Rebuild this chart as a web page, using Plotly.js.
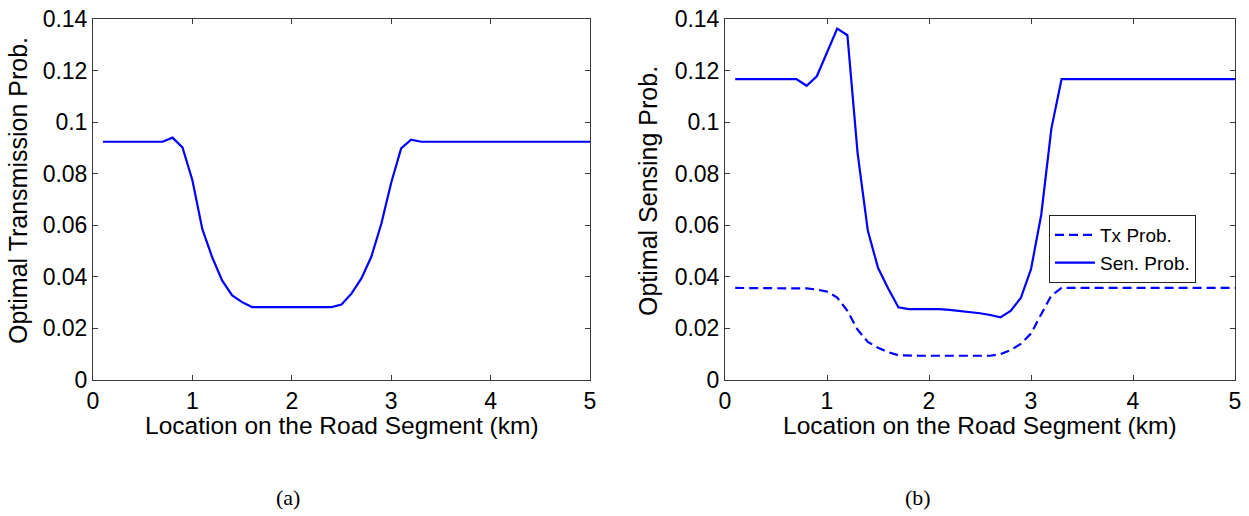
<!DOCTYPE html>
<html>
<head>
<meta charset="utf-8">
<script src="https://cdn.plot.ly/plotly-3.0.1.min.js"></script>
<style>html,body{margin:0;padding:0;background:#fff;}#chart{width:1249px;height:516px;}</style>
</head>
<body>
<div id="chart"></div>
<script>
// Location on road segment (km)
const locKm = [0.1,0.2,0.3,0.4,0.5,0.6,0.7,0.8,0.9,1.0,
  1.1,1.2,1.3,1.4,1.5,1.6,1.7,1.8,1.9,2.0,
  2.1,2.2,2.3,2.4,2.5,2.6,2.7,2.8,2.9,3.0,
  3.1,3.2,3.3,3.4,3.5,3.6,3.7,3.8,3.9,4.0,
  4.1,4.2,4.3,4.4,4.5,4.6,4.7,4.8,4.9,5.0];

// (a) Optimal transmission probability
const transProb = [0.0924,0.0924,0.0924,0.0924,0.0924,0.0924,0.0924,0.0940,0.0902,0.0775,
  0.0585,0.0475,0.0385,0.0328,0.0302,0.0283,0.0283,0.0283,0.0283,0.0283,
  0.0283,0.0283,0.0283,0.0283,0.0293,0.0335,0.0394,0.0478,0.0605,0.0765,
  0.0898,0.0932,0.0924,0.0924,0.0924,0.0924,0.0924,0.0924,0.0924,0.0924,
  0.0924,0.0924,0.0924,0.0924,0.0924,0.0924,0.0924,0.0924,0.0924,0.0924];

// (b) Tx probability
const txProb = [0.0357,0.0357,0.0357,0.0357,0.0357,0.0357,0.0357,0.0355,0.0351,0.0343,
  0.0320,0.0268,0.0195,0.0148,0.0125,0.0108,0.0096,0.0094,0.0094,0.0094,
  0.0094,0.0094,0.0094,0.0094,0.0094,0.0094,0.0100,0.0116,0.0140,0.0180,
  0.0255,0.0328,0.0357,0.0357,0.0357,0.0357,0.0357,0.0357,0.0357,0.0357,
  0.0357,0.0357,0.0357,0.0357,0.0357,0.0357,0.0357,0.0357,0.0357,0.0357];

// (b) Sensing probability
const senProb = [0.1167,0.1167,0.1167,0.1167,0.1167,0.1167,0.1167,0.1141,0.1178,0.1270,
  0.1363,0.1337,0.0880,0.0580,0.0435,0.0355,0.0282,0.0275,0.0275,0.0275,
  0.0275,0.0272,0.0268,0.0264,0.0259,0.0252,0.0243,0.0268,0.0318,0.0430,
  0.0640,0.0976,0.1167,0.1167,0.1167,0.1167,0.1167,0.1167,0.1167,0.1167,
  0.1167,0.1167,0.1167,0.1167,0.1167,0.1167,0.1167,0.1167,0.1167,0.1167];

const xTitle = 'Location on the Road Segment (km)';
const yTitleA = 'Optimal Transmission Prob.';
const yTitleB = 'Optimal Sensing Prob.';
const legendNames = ['Tx Prob.', 'Sen. Prob.'];
const captions = ['(a)', '(b)'];

const W = 1249, H = 516;
const blue = '#0000ff';
const axisColor = '#3a3a3a';
const sans = 'Liberation Sans, Arial, sans-serif';

const traces = [
  {x: locKm, y: transProb, xaxis: 'x', yaxis: 'y', mode: 'lines', showlegend: false,
   line: {color: blue, width: 2.2}},
  {x: locKm, y: txProb, xaxis: 'x2', yaxis: 'y2', mode: 'lines', name: legendNames[0],
   line: {color: blue, width: 2.2, dash: '9px,5px'}},
  {x: locKm, y: senProb, xaxis: 'x2', yaxis: 'y2', mode: 'lines', name: legendNames[1],
   line: {color: blue, width: 2.2}}
];

function xa(domain, anchor) {
  return {domain: domain, anchor: anchor, range: [0, 5], dtick: 1, tick0: 0,
    ticks: 'inside', ticklen: 5, tickcolor: axisColor, showline: true, linecolor: axisColor,
    linewidth: 1, mirror: 'ticks', showgrid: false, zeroline: false, automargin: false,
    tickfont: {family: sans, size: 23, color: '#000'}};
}
function ya(domain, anchor) {
  return {domain: domain, anchor: anchor, range: [0, 0.14], dtick: 0.02, tick0: 0,
    ticks: 'inside', ticklen: 5, tickcolor: axisColor, showline: true, linecolor: axisColor,
    linewidth: 1, mirror: 'ticks', showgrid: false, zeroline: false, automargin: false,
    tickfont: {family: sans, size: 23, color: '#000'}};
}

const yDom = [1 - 380 / H, 1 - 19 / H];
const xDomA = [93 / W, 590 / W];
const xDomB = [725 / W, 1235 / W];

const layout = {
  width: W, height: H,
  margin: {l: 0, r: 0, t: 0, b: 0},
  paper_bgcolor: '#fff', plot_bgcolor: '#fff',
  xaxis: xa(xDomA, 'y'), yaxis: ya(yDom, 'x'),
  xaxis2: xa(xDomB, 'y2'), yaxis2: ya(yDom, 'x2'),
  showlegend: true,
  legend: {x: 1049 / W, y: 1 - 215 / H, xanchor: 'left', yanchor: 'top',
    bgcolor: '#fff', bordercolor: '#222', borderwidth: 1,
    font: {family: sans, size: 19, color: '#000'}, tracegroupgap: 0, itemwidth: 40},
  annotations: [
    {text: xTitle, xref: 'paper', yref: 'paper', x: (93 + 590) / 2 / W, y: 1 - 425 / H,
     xanchor: 'center', yanchor: 'middle', showarrow: false, font: {family: sans, size: 24.5, color: '#000'}},
    {text: xTitle, xref: 'paper', yref: 'paper', x: (725 + 1235) / 2 / W, y: 1 - 425 / H,
     xanchor: 'center', yanchor: 'middle', showarrow: false, font: {family: sans, size: 24.5, color: '#000'}},
    {text: yTitleA, xref: 'paper', yref: 'paper', x: 18 / W, y: 1 - 191 / H, textangle: -90,
     xanchor: 'center', yanchor: 'middle', showarrow: false, font: {family: sans, size: 25, color: '#000'}},
    {text: yTitleB, xref: 'paper', yref: 'paper', x: 648 / W, y: 1 - 191 / H, textangle: -90,
     xanchor: 'center', yanchor: 'middle', showarrow: false, font: {family: sans, size: 25, color: '#000'}},
    {text: captions[0], xref: 'paper', yref: 'paper', x: 288 / W, y: 1 - 497 / H,
     xanchor: 'center', yanchor: 'middle', showarrow: false, font: {family: 'Liberation Serif, Times New Roman, serif', size: 22, color: '#000'}},
    {text: captions[1], xref: 'paper', yref: 'paper', x: 918 / W, y: 1 - 497 / H,
     xanchor: 'center', yanchor: 'middle', showarrow: false, font: {family: 'Liberation Serif, Times New Roman, serif', size: 22, color: '#000'}}
  ]
};

Plotly.newPlot('chart', traces, layout, {displayModeBar: false, staticPlot: true});
</script>
</body>
</html>
